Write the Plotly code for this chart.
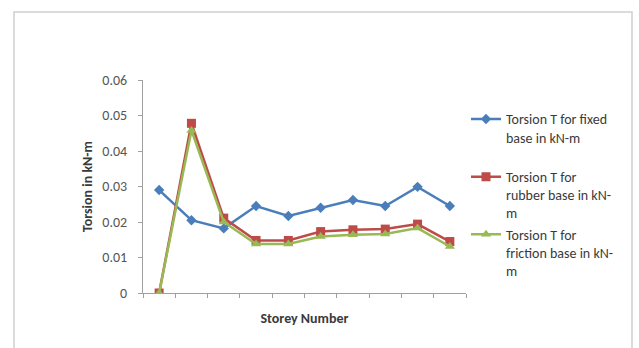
import plotly.graph_objects as go

storeys = ["1", "2", "3", "4", "5", "6", "7", "8", "9", "10"]
fixed = [0.029, 0.0205, 0.0182, 0.0245, 0.0217, 0.024, 0.0262, 0.0245, 0.0299, 0.0245]
rubber = [0.0, 0.0478, 0.0211, 0.0148, 0.0148, 0.0173, 0.0178, 0.018, 0.0194, 0.0145]
friction = [0.0, 0.0458, 0.0200, 0.0138, 0.0138, 0.0159, 0.0164, 0.0166, 0.0183, 0.0131]

names = ["Torsion T for fixed<br>base in kN-m<br> ",
         "Torsion T for<br>rubber base in kN-<br>m",
         "Torsion T for<br>friction base in kN-<br>m"]
colors = ["#4A7EBB", "#BE4B48", "#98B954"]
symbols = ["diamond", "square", "triangle-up"]
sizes = [8, 9, 9]

FONT = "Carlito, Lato, Liberation Sans, sans-serif"
TXT = "#3a3a3a"

fig = go.Figure()
for i, ys in enumerate([fixed, rubber, friction]):
    fig.add_trace(go.Scatter(
        x=storeys, y=ys, mode="lines+markers", name=names[i],
        legendgroup=str(i),
        line=dict(color=colors[i], width=2.5),
        marker=dict(symbol=symbols[i], size=sizes[i], color=colors[i]),
    ))

fig.update_layout(
    width=639, height=348,
    margin=dict(l=143, r=173, t=80, b=55),
    paper_bgcolor="white", plot_bgcolor="white",
    font=dict(family=FONT, size=14, color=TXT),
    showlegend=True,
    legend=dict(x=1.0, xanchor="left", y=0.89, yanchor="top",
                valign="top", tracegroupgap=0, itemwidth=30,
                font=dict(family=FONT, size=14, color=TXT),
                bgcolor="rgba(0,0,0,0)"),
    xaxis=dict(type="category", range=[-0.5, 9.5], showticklabels=False,
               showline=True, linecolor="#A0A0A0", linewidth=1,
               ticks="outside", tickson="boundaries", ticklen=4, tickcolor="#A0A0A0",
               showgrid=False, zeroline=False,
               title=dict(text="<b>Storey Number</b>", standoff=20,
                          font=dict(family=FONT, size=14, color=TXT))),
    yaxis=dict(range=[0, 0.06], dtick=0.01,
               showline=True, linecolor="#A0A0A0", linewidth=1,
               ticks="outside", ticklen=4, tickcolor="#A0A0A0",
               ticklabelstandoff=8,
               showgrid=False, zeroline=False,
               tickfont=dict(family=FONT, size=14, color="#555555"),
               title=dict(text="<b>Torsion in kN-m</b>", standoff=6,
                          font=dict(family=FONT, size=14, color=TXT))),
    shapes=[dict(type="rect", xref="paper", yref="paper",
                 x0=(14 - 143) / 323, x1=(632 - 143) / 323,
                 y0=(293 - 360) / 213, y1=(293 - 12) / 213,
                 line=dict(color="#CFCFCF", width=1.5), fillcolor="rgba(0,0,0,0)")],
)

fig.write_html("out.html")
